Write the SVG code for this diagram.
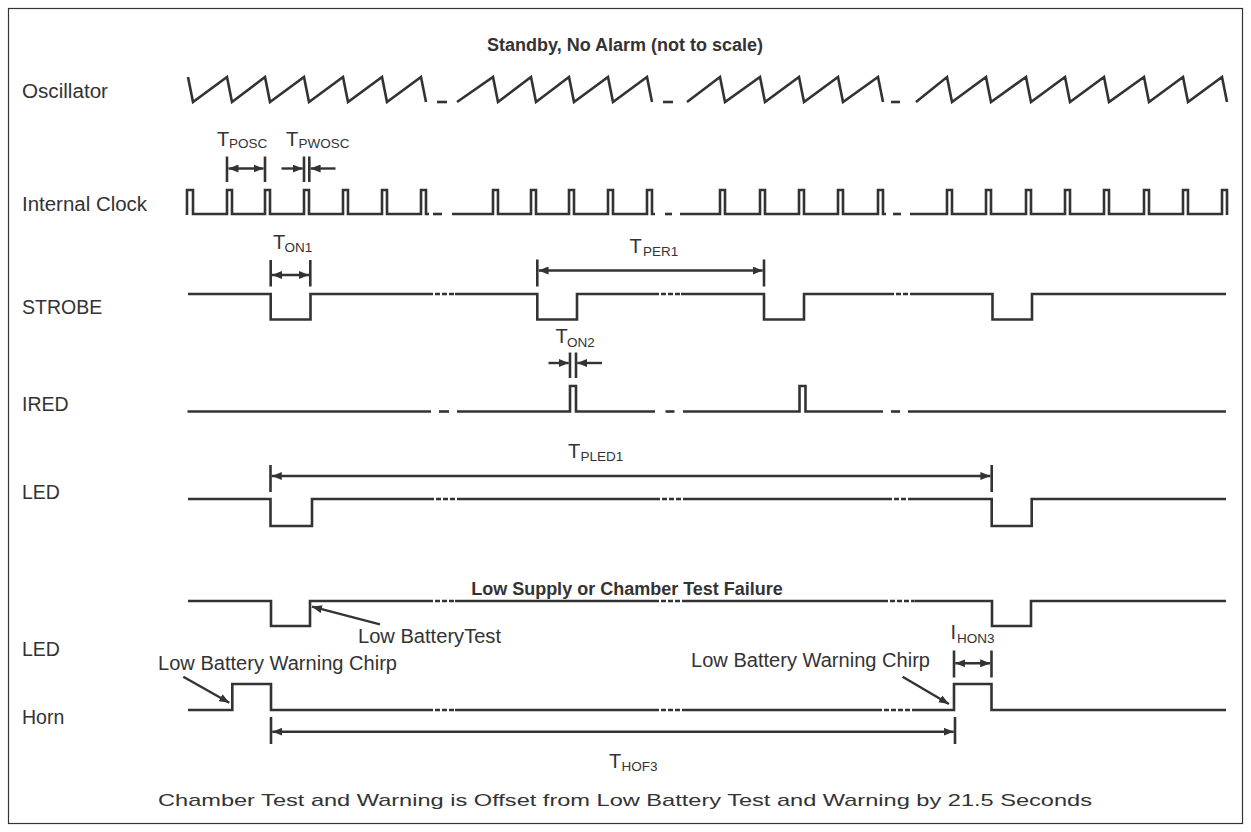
<svg xmlns="http://www.w3.org/2000/svg" width="1251" height="832" viewBox="0 0 1251 832">
<style>
  .sig{fill:none;stroke:#333;stroke-width:2.6;stroke-linejoin:miter;stroke-linecap:butt}
  .brk{fill:none;stroke:#333;stroke-width:2.6;stroke-dasharray:5 2}
  .tick{stroke:#333;stroke-width:2.6}
  .dim{stroke:#333;stroke-width:2.4;marker-start:url(#ah);marker-end:url(#ah)}
  .ptr{stroke:#333;stroke-width:2.4;marker-end:url(#ah)}
  .one{stroke:#333;stroke-width:2.4;marker-end:url(#ah)}
  text{font-family:"Liberation Sans",Arial,Helvetica,sans-serif;fill:#333}
  .lbl{font-size:19.5px}
  .ttl{font-size:18px;font-weight:bold;text-anchor:middle}
  .ann{font-size:20px}
  .t{font-size:20px}
  .s{font-size:13.5px}
  .foot{font-size:17px}
</style>
<defs>
  <marker id="ah" viewBox="0 0 10 8" refX="10" refY="4" markerWidth="10" markerHeight="8" markerUnits="userSpaceOnUse" orient="auto-start-reverse">
    <path d="M0,0 L10,4 L0,8 z" fill="#333"/>
  </marker>
</defs>
<rect x="0" y="0" width="1251" height="832" fill="#fff"/>
<rect x="8.5" y="8.5" width="1234" height="815" fill="none" stroke="#333" stroke-width="1.2"/>

<g id="titles">
  <text class="ttl" x="625" y="51">Standby, No Alarm (not to scale)</text>
  <text class="ttl" x="627" y="595" font-size="19px">Low Supply or Chamber Test Failure</text>
  <text class="foot" x="158" y="806" textLength="934" lengthAdjust="spacingAndGlyphs">Chamber Test and Warning is Offset from Low Battery Test and Warning by 21.5 Seconds</text>
</g>

<g id="oscillator">
  <text class="lbl" x="22" y="98" textLength="86" lengthAdjust="spacingAndGlyphs">Oscillator</text>
  <path class="sig" d="M188,77 L193,102 L227,77 L232,102 L265,77 L270,102 L304,77 L309,102 L343,77 L348,102 L382,77 L387,102 L421,77 L426,102"/>
  <path class="sig" d="M437,102 H447"/>
  <path class="sig" d="M457,102 L493,77 L498,102 L531,77 L536,102 L569,77 L574,102 L608,77 L613,102 L647,77 L652,102"/>
  <path class="sig" d="M663,102 H673"/>
  <path class="sig" d="M687,102 L720,77 L725,102 L760,77 L765,102 L799,77 L804,102 L838,77 L843,102 L878,77 L883,102"/>
  <path class="sig" d="M891,102 H900"/>
  <path class="sig" d="M916,102 L947,77 L952,102 L986,77 L991,102 L1026,77 L1031,102 L1065,77 L1070,102 L1104,77 L1109,102 L1144,77 L1149,102 L1183,77 L1188,102 L1222,77 L1227,102"/>
</g>

<g id="internal-clock">
  <text class="lbl" x="22" y="211" textLength="125" lengthAdjust="spacingAndGlyphs">Internal Clock</text>
  <path class="sig" d="M187,215 V190 H193 V214 H227 V190 H232 V214 H265 V190 H270 V214 H304 V190 H309 V214 H343 V190 H348 V214 H382 V190 H387 V214 H421 V190 H426 V214 H429"/>
  <path class="sig" d="M433,214 H442"/>
  <path class="sig" d="M452,214 H493 V190 H498 V214 H531 V190 H536 V214 H569 V190 H574 V214 H608 V190 H613 V214 H647 V190 H652 V214 H655"/>
  <path class="sig" d="M665,214 H672"/>
  <path class="sig" d="M680,214 H720 V190 H725 V214 H760 V190 H765 V214 H799 V190 H804 V214 H838 V190 H843 V214 H878 V190 H883 V214 H886"/>
  <path class="sig" d="M893,214 H901"/>
  <path class="sig" d="M910,214 H947 V190 H952 V214 H986 V190 H991 V214 H1026 V190 H1031 V214 H1065 V190 H1070 V214 H1104 V190 H1109 V214 H1144 V190 H1149 V214 H1183 V190 H1188 V214 H1222 V190 H1227 V215"/>
</g>

<g id="strobe">
  <text class="lbl" x="22" y="314">STROBE</text>
  <path class="sig" d="M188,294 H270.7 V319.5 H310.5 V294 H428"/>
  <path class="brk" d="M428,294 H455"/>
  <path class="sig" d="M455,294 H537.3 V319.5 H577 V294 H654"/>
  <path class="brk" d="M654,294 H681"/>
  <path class="sig" d="M681,294 H764 V319.5 H804 V294 H889"/>
  <path class="brk" d="M889,294 H914"/>
  <path class="sig" d="M914,294 H992.5 V319.5 H1032 V294 H1226"/>
</g>

<g id="ired">
  <text class="lbl" x="22" y="411">IRED</text>
  <path class="sig" d="M187.5,411.5 H431"/>
  <path class="sig" d="M439,411.5 H449"/>
  <path class="sig" d="M457,411.5 H570 V386 H576 V411.5 H655"/>
  <path class="sig" d="M665.5,411.5 H674.5"/>
  <path class="sig" d="M683,411.5 H799.5 V386 H805.5 V411.5 H883"/>
  <path class="sig" d="M891,411.5 H900"/>
  <path class="sig" d="M908,411.5 H1226"/>
</g>

<g id="led">
  <text class="lbl" x="22" y="499">LED</text>
  <path class="sig" d="M188,499 H270.5 V526 H312 V499 H429"/>
  <path class="brk" d="M429,499 H458"/>
  <path class="sig" d="M458,499 H655"/>
  <path class="brk" d="M655,499 H686"/>
  <path class="sig" d="M686,499 H887"/>
  <path class="brk" d="M887,499 H913"/>
  <path class="sig" d="M913,499 H991.7 V526 H1031.7 V499 H1226"/>
</g>

<g id="led-low-supply">
  <text class="lbl" x="22" y="656">LED</text>
  <path class="sig" d="M188,601 H271 V626 H310 V601 H428"/>
  <path class="brk" d="M428,601 H455"/>
  <path class="sig" d="M455,601 H654"/>
  <path class="brk" d="M654,601 H683"/>
  <path class="sig" d="M683,601 H883"/>
  <path class="brk" d="M883,601 H914.5"/>
  <path class="sig" d="M914.5,601 H992 V626 H1031 V601 H1226"/>
  <text class="ann" x="358" y="643" textLength="143" lengthAdjust="spacingAndGlyphs">Low BatteryTest</text>
</g>

<g id="horn">
  <text class="lbl" x="22" y="724">Horn</text>
  <path class="sig" d="M188,710 H232.3 V684 H271 V710 H428"/>
  <path class="brk" d="M428,710 H455"/>
  <path class="sig" d="M455,710 H654"/>
  <path class="brk" d="M654,710 H685"/>
  <path class="sig" d="M685,710 H877"/>
  <path class="brk" d="M877,710 H912"/>
  <path class="sig" d="M912,710 H954 V684 H991.5 V710 H1226"/>
  <text class="ann" x="158" y="670" textLength="239" lengthAdjust="spacingAndGlyphs">Low Battery Warning Chirp</text>
  <text class="ann" x="691" y="667" textLength="239" lengthAdjust="spacingAndGlyphs">Low Battery Warning Chirp</text>
</g>

<g id="timing-labels">
  <text class="t" x="217" y="146">T</text><text class="s" x="229" y="147.5">POSC</text>
  <text class="t" x="286" y="146">T</text><text class="s" x="298.5" y="147.5">PWOSC</text>
  <text class="t" x="273" y="249">T</text><text class="s" x="284.5" y="252">ON1</text>
  <text class="t" x="629.5" y="253">T</text><text class="s" x="643" y="256">PER1</text>
  <text class="t" x="555.5" y="343">T</text><text class="s" x="567" y="347">ON2</text>
  <text class="t" x="568" y="458">T</text><text class="s" x="580.5" y="461">PLED1</text>
  <text class="t" x="950.5" y="639">I</text><text class="s" x="957" y="643">HON3</text>
  <text class="t" x="609" y="768">T</text><text class="s" x="621.5" y="771">HOF3</text>
</g>

<g id="connectors">
  <line class="tick" x1="227" y1="156.5" x2="227" y2="182"/>
  <line class="tick" x1="265" y1="156.5" x2="265" y2="182"/>
  <line class="dim" x1="228.5" y1="168.5" x2="263.5" y2="168.5"/>
  <line class="tick" x1="304" y1="156.5" x2="304" y2="182"/>
  <line class="tick" x1="309.3" y1="156.5" x2="309.3" y2="182"/>
  <line class="one" x1="281.5" y1="168.5" x2="302.7" y2="168.5"/>
  <line class="one" x1="335.5" y1="168.5" x2="310.6" y2="168.5"/>
  <line class="tick" x1="270.7" y1="260" x2="270.7" y2="286.5"/>
  <line class="tick" x1="310.3" y1="260" x2="310.3" y2="286.5"/>
  <line class="dim" x1="272" y1="275" x2="309" y2="275"/>
  <line class="tick" x1="537.3" y1="259.5" x2="537.3" y2="286.5"/>
  <line class="tick" x1="764" y1="259.5" x2="764" y2="286.5"/>
  <line class="dim" x1="538.6" y1="270.5" x2="762.7" y2="270.5"/>
  <line class="tick" x1="570" y1="352.5" x2="570" y2="378"/>
  <line class="tick" x1="576" y1="352.5" x2="576" y2="378"/>
  <line class="one" x1="548.5" y1="363" x2="568.7" y2="363"/>
  <line class="one" x1="602" y1="363" x2="577.3" y2="363"/>
  <line class="tick" x1="270.5" y1="465" x2="270.5" y2="492"/>
  <line class="tick" x1="991.7" y1="465" x2="991.7" y2="492"/>
  <line class="dim" x1="271.8" y1="476" x2="990.4" y2="476"/>
  <line class="tick" x1="954" y1="650.5" x2="954" y2="677.5"/>
  <line class="tick" x1="991.5" y1="650.5" x2="991.5" y2="677.5"/>
  <line class="dim" x1="955.3" y1="663.3" x2="990.2" y2="663.3"/>
  <line class="tick" x1="271" y1="717" x2="271" y2="744"/>
  <line class="tick" x1="955" y1="717" x2="955" y2="744"/>
  <line class="dim" x1="272.3" y1="731.7" x2="953.7" y2="731.7"/>
  <line class="ptr" x1="380" y1="624.3" x2="312" y2="606.7"/>
  <line class="ptr" x1="183.3" y1="676.7" x2="229.3" y2="702.7"/>
  <line class="ptr" x1="902.6" y1="676.7" x2="948.9" y2="704"/>
</g>
</svg>
